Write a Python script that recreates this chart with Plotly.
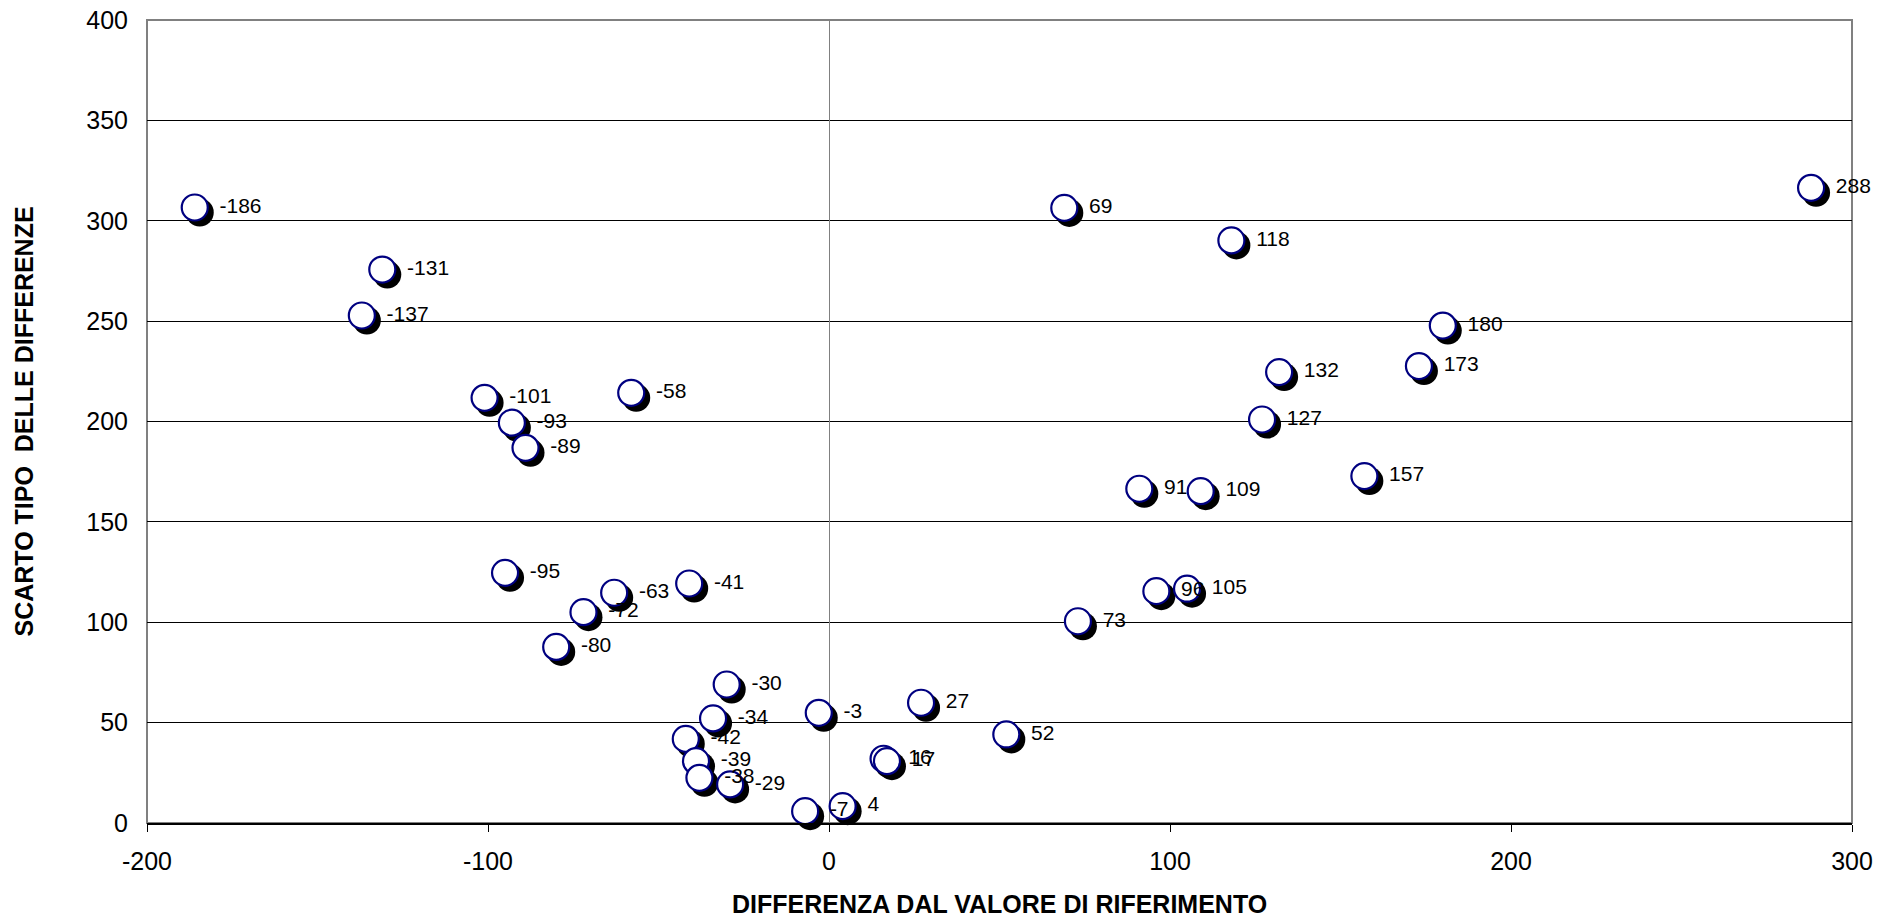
import plotly.graph_objects as go

# ---- data ----
x_vals = [-186, -137, -131, -101, -95, -93, -89, -80, -72, -63, -58, -42, -41, -39, -38,
          -34, -30, -29, -7, -3, 4, 16, 17, 27, 52, 69, 73, 91, 96, 105, 109, 118, 127,
          132, 157, 173, 180, 288]
y_vals = [306.6, 252.8, 275.7, 211.8, 124.6, 199.4, 186.9, 87.7, 105.0, 114.7, 214.3, 41.9,
          119.3, 30.8, 22.5, 52.1, 69.0, 19.2, 5.9, 54.9, 8.4, 32.0, 30.8, 59.9, 44.1, 306.4,
          100.5, 166.5, 115.5, 116.7, 165.3, 290.2, 201.0, 224.6, 172.8, 227.6, 247.8, 316.4]
labels = [str(v) for v in x_vals]

x_ticks = [-200, -100, 0, 100, 200, 300]
x_tick_text = ["-200", "-100", "0", "100", "200", "300"]
y_ticks = [0, 50, 100, 150, 200, 250, 300, 350, 400]
y_tick_text = ["0", "50", "100", "150", "200", "250", "300", "350", "400"]

x_title = "DIFFERENZA DAL VALORE DI RIFERIMENTO"
y_title = "SCARTO TIPO  DELLE DIFFERENZE"
x_range = [-200, 300]
y_range = [0, 400]

# ---- layout geometry ----
W, H = 1894, 921
ML, MR, MT, MB = 147, 42, 20, 98
PW, PH = W - ML - MR, H - MT - MB
FONT = "Arial, Liberation Sans, sans-serif"

# shadow offset: 5 px right / down converted to data units through the axis scales
SHADOW_PX = 5
dx = SHADOW_PX * (x_range[1] - x_range[0]) / PW
dy = SHADOW_PX * (y_range[1] - y_range[0]) / PH
shadow_x = [v + dx for v in x_vals]
shadow_y = [v - dy for v in y_vals]

fig = go.Figure()
fig.add_trace(go.Scatter(
    x=shadow_x, y=shadow_y, mode="markers",
    marker=dict(size=28, color="black", line=dict(width=0)),
    hoverinfo="skip", showlegend=False, cliponaxis=False,
))
fig.add_trace(go.Scatter(
    x=x_vals, y=y_vals, mode="markers",
    marker=dict(size=26, color="white", line=dict(width=2.2, color="#000080")),
    showlegend=False, cliponaxis=False,
))
# labels (invisible larger markers so the text sits further right)
fig.add_trace(go.Scatter(
    x=x_vals, y=y_vals, mode="markers+text", text=labels,
    textposition="middle right",
    textfont=dict(family=FONT, size=21, color="black"),
    marker=dict(size=38, color="rgba(0,0,0,0)", line=dict(width=0)),
    hoverinfo="skip", showlegend=False, cliponaxis=False,
))

fig.update_layout(
    width=W, height=H,
    margin=dict(l=ML, r=MR, t=MT, b=MB, autoexpand=False),
    paper_bgcolor="white", plot_bgcolor="white",
    font=dict(family=FONT, size=25, color="black"),
    showlegend=False,
    xaxis=dict(
        range=x_range, tickmode="array", tickvals=x_ticks, ticktext=x_tick_text,
        automargin=False,
        showgrid=False,
        zeroline=True, zerolinecolor="#808080", zerolinewidth=1,
        showline=True, linecolor="black", linewidth=2,
        ticks="outside", ticklen=7, tickcolor="black", tickwidth=1,
        ticklabelstandoff=8,
        tickfont=dict(family=FONT, size=25, color="black"),
    ),
    yaxis=dict(
        range=y_range, tickmode="array", tickvals=y_ticks, ticktext=y_tick_text,
        automargin=False,
        showgrid=True, gridcolor="#000000", gridwidth=1,
        zeroline=False,
        showline=False,
        ticks="", ticklabelstandoff=18,
        tickfont=dict(family=FONT, size=25, color="black"),
    ),
    shapes=[dict(type="rect", xref="paper", yref="paper", x0=0, x1=1, y0=0, y1=1,
                 line=dict(color="#808080", width=2), layer="below")],
    annotations=[
        dict(text=x_title, xref="paper", yref="paper", x=0.5, y=(-(904 - (MT + PH)) / PH),
             xanchor="center", yanchor="middle", showarrow=False,
             font=dict(family=FONT, size=25, color="black", weight="bold")),
        dict(text=y_title, xref="paper", yref="paper", x=(23 - ML) / PW, y=0.5,
             xanchor="center", yanchor="middle", showarrow=False, textangle=-90,
             font=dict(family=FONT, size=25, color="black", weight="bold")),
    ],
)

fig.write_html("out.html", config={"displayModeBar": False},
               post_script="document.body.style.margin='0';document.body.style.overflow='hidden';")
